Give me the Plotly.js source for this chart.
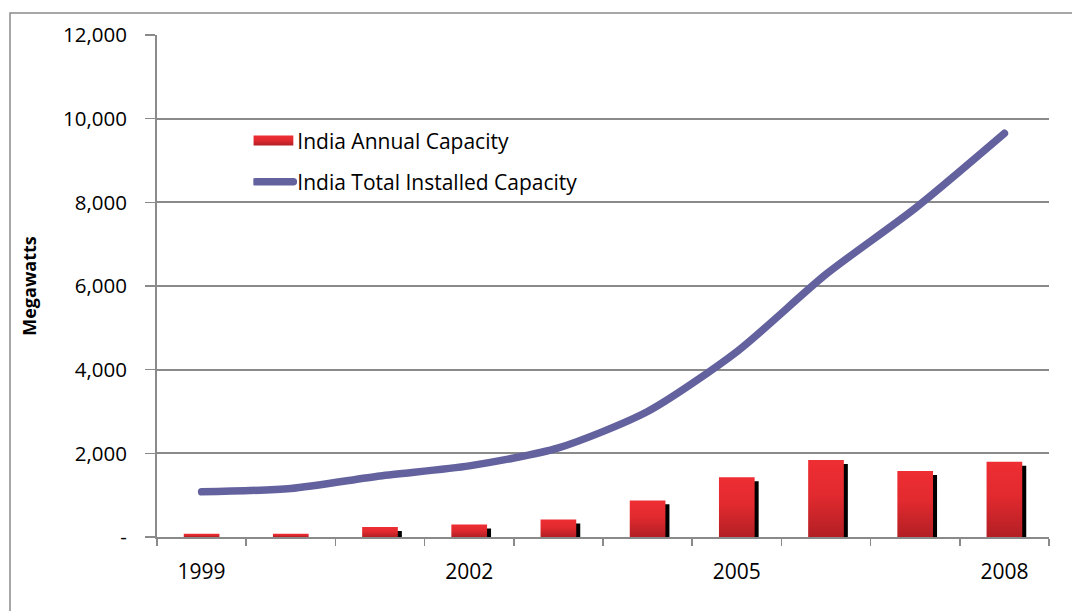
<!DOCTYPE html>
<html>
<head>
<meta charset="utf-8">
<script src="https://cdn.plot.ly/plotly-3.0.1.min.js"></script>
<style>
  html, body { margin: 0; padding: 0; background: #ffffff; }
  #chart { width: 1072px; height: 611px; }
</style>
</head>
<body>
<div id="chart"></div>
<script>
// ---- data ----
const years = ['1999','2000','2001','2002','2003','2004','2005','2006','2007','2008'];
const annualCapacity = [80, 80, 240, 300, 420, 875, 1430, 1840, 1580, 1800];
const totalInstalled = [1080, 1160, 1460, 1700, 2130, 3000, 4430, 6280, 7860, 9650];
const xTickLabels = ['1999','','','2002','','','2005','','','2008'];
const yTickValues = [0, 2000, 4000, 6000, 8000, 10000, 12000];
const yTickLabels = ['-', '2,000', '4,000', '6,000', '8,000', '10,000', '12,000'];
const seriesNames = ['India Annual Capacity', 'India Total Installed Capacity'];

// ---- style ----
const FONT = 'Open Sans, Lato, sans-serif';
const GRID = '#8a8a8a';
const LINE_COLOR = '#64629e';
const BAR_TOP = '#ee2e33';
const BAR_BOTTOM = '#b21f24';
const BAR_W = 0.40;
const SHADOW_DX = 0.045;      // category units (~4px)
const SHADOW_DROP = 95;       // MW (~4px)

const shadowTrace = {
  type: 'bar', x: years, y: annualCapacity,
  base: -SHADOW_DROP,
  width: BAR_W, offset: -BAR_W / 2 + SHADOW_DX,
  marker: { color: '#000000', line: { width: 0 } },
  showlegend: false, hoverinfo: 'skip',
  legendgroup: 'a'
};
const barTrace = {
  type: 'bar', x: years, y: annualCapacity,
  name: seriesNames[0],
  width: BAR_W, offset: -BAR_W / 2,
  marker: { color: BAR_TOP, line: { width: 0 } },
  legendgroup: 'a'
};
const lineTrace = {
  type: 'scatter', mode: 'lines', x: years, y: totalInstalled,
  name: seriesNames[1],
  line: { color: LINE_COLOR, width: 7.5, shape: 'spline', smoothing: 0.7 },
  legendgroup: 'b'
};

const layout = {
  width: 1072, height: 611,
  margin: { l: 157, r: 23, t: 35, b: 74 },
  paper_bgcolor: '#ffffff', plot_bgcolor: '#ffffff',
  font: { family: FONT, color: '#000000', size: 20 },
  barmode: 'overlay',
  showlegend: true,
  legend: {
    x: 0.108, y: 0.83, xanchor: 'left', yanchor: 'top',
    bgcolor: 'rgba(0,0,0,0)', borderwidth: 0,
    font: { family: FONT, size: 21, color: '#000000' },
    itemwidth: 34, traceorder: 'grouped', tracegroupgap: 11
  },
  xaxis: {
    type: 'category',
    tickmode: 'array', tickvals: years, ticktext: xTickLabels,
    tickson: 'boundaries', ticks: 'outside', ticklen: 7, tickwidth: 1.5, tickcolor: GRID,
    showgrid: false, zeroline: false,
    showline: true, linecolor: GRID, linewidth: 2,
    tickfont: { family: FONT, size: 21, color: '#000000' },
    ticklabelstandoff: 15,
    fixedrange: true
  },
  yaxis: {
    range: [0, 12000],
    tickmode: 'array', tickvals: yTickValues, ticktext: yTickLabels,
    ticks: 'outside', ticklen: 10, tickwidth: 1.5, tickcolor: GRID,
    showgrid: true, gridcolor: GRID, gridwidth: 2,
    zeroline: false,
    showline: true, linecolor: GRID, linewidth: 2,
    tickfont: { family: FONT, size: 20.5, color: '#000000' },
    ticklabelstandoff: 14,
    title: { text: '<b>Megawatts</b>', font: { family: FONT, size: 18, color: '#000000' }, standoff: 22 },
    fixedrange: true
  },
  shapes: [{
    type: 'rect', xref: 'paper', yref: 'paper',
    x0: (10 - 157) / 892, x1: 1.2, y0: -0.3, y1: (537 - 13) / 502,
    line: { color: '#8a8a8a', width: 1.5 }, fillcolor: 'rgba(0,0,0,0)', layer: 'below'
  }]
};

Plotly.newPlot('chart', [shadowTrace, barTrace, lineTrace], layout, { displayModeBar: false, staticPlot: true })
.then(function (gd) {
  const svg = gd.querySelector('svg.main-svg');
  const ns = 'http://www.w3.org/2000/svg';
  let defs = svg.querySelector('defs');
  if (!defs) { defs = document.createElementNS(ns, 'defs'); svg.insertBefore(defs, svg.firstChild); }
  const grad = document.createElementNS(ns, 'linearGradient');
  grad.setAttribute('id', 'redgrad');
  grad.setAttribute('x1', '0'); grad.setAttribute('y1', '0');
  grad.setAttribute('x2', '0'); grad.setAttribute('y2', '1');
  [[0, BAR_TOP], [0.45, '#e22a2f'], [1, BAR_BOTTOM]].forEach(function (s) {
    const st = document.createElementNS(ns, 'stop');
    st.setAttribute('offset', s[0]); st.setAttribute('stop-color', s[1]);
    grad.appendChild(st);
  });
  defs.appendChild(grad);
  const barTraces = gd.querySelectorAll('.barlayer .trace');
  if (barTraces[1]) {
    barTraces[1].querySelectorAll('path').forEach(function (p) { p.style.fill = 'url(#redgrad)'; });
  }
  gd.querySelectorAll('.scatterlayer .js-line').forEach(function (p) {
    p.style.strokeLinecap = 'round'; p.style.strokeLinejoin = 'round';
  });
  // legend symbols
  const legendTraces = gd.querySelectorAll('.legend .traces');
  legendTraces.forEach(function (t) {
    const txt = t.querySelector('text');
    if (!txt) return;
    const name = txt.textContent;
    if (name === seriesNames[0]) {
      t.querySelectorAll('.legendpoints path').forEach(function (p) {
        p.setAttribute('d', 'M0,-5H40V5H0Z');
        p.setAttribute('transform', 'translate(0,0)');
        p.style.fill = 'url(#redgrad)';
        p.style.stroke = 'none';
      });
    } else if (name === seriesNames[1]) {
      t.querySelectorAll('.legendlines path').forEach(function (p) {
        p.setAttribute('d', 'M2,0h38');
        p.style.strokeLinecap = 'round';
      });
    }
  });
});
</script>
</body>
</html>
